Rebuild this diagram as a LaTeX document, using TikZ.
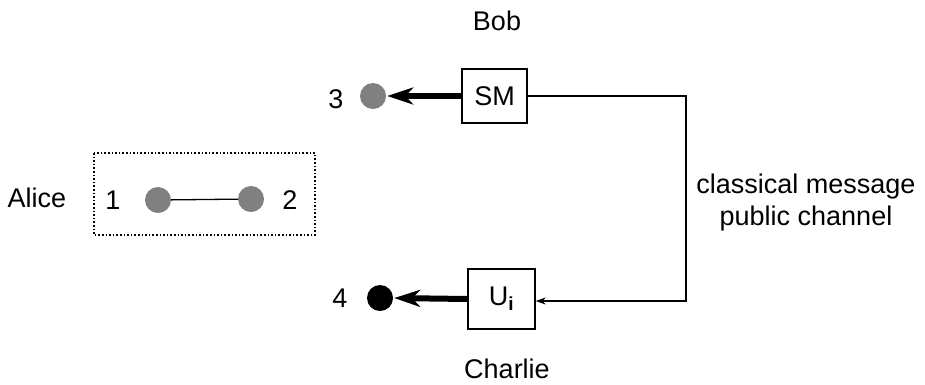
\documentclass[tikz,border=0pt]{standalone}
\usepackage{fontspec}
\setmainfont{Liberation Sans}
\usetikzlibrary{arrows.meta}
\begin{document}
\begin{tikzpicture}[x=1pt,y=-1pt,
  lbl/.style={font=\fontsize{27}{32}\selectfont, inner sep=0pt, anchor=base},
  boxnode/.style={draw, line width=1.3pt, font=\fontsize{27}{32}\selectfont, inner sep=0pt},
  qubit/.style={circle, inner sep=0pt, minimum size=26pt},
  thin/.style={line width=1.3pt},
  bigarrow/.style={line width=6pt, -{Stealth[length=26pt, width=17pt, inset=8pt]}, shorten >=1pt},
  smallarrow/.style={line width=1.3pt, -{Stealth[length=10pt, width=7pt]}}]
\useasboundingbox (0,0) rectangle (925,384);
\node[lbl] (bob) at (497,30) {Bob};
\node[lbl] (charlie) at (507,378) {Charlie};
\node[lbl] (alice) at (37,207) {Alice};
\node[boxnode, minimum width=65pt, minimum height=54pt] (sm) at (494.5,96) {SM};
\node[boxnode, minimum width=67pt, minimum height=60pt] (ui) at (501.5,299) {U$_{\mathbf{i}}$};
\node[qubit, fill=black!50] (q3) at (373,96) {};
\node[qubit, fill=black] (q4) at (380,298) {};
\node[lbl] (l3) at (336,108) {3};
\node[lbl] (l4) at (340,307) {4};
\draw[dotted, line width=1.6pt] (94,153) rectangle (315,235);
\node[qubit, fill=black!50] (q1) at (158,200) {};
\node[qubit, fill=black!50] (q2) at (251,199) {};
\node[lbl] (l1) at (113,209) {1};
\node[lbl] (l2) at (290,209) {2};
\draw[thin] (q1) -- (q2);
\draw[bigarrow] (sm.west) -- (q3.east);
\draw[bigarrow] (ui.west) -- (q4.east);
\coordinate (c1) at (686,96);
\coordinate (c2) at (686,301);
\draw[smallarrow] (sm.east) -- (c1) -- (c2) -- (ui.east |- c2);
\node[lbl] (msg1) at (806,193) {classical message};
\node[lbl] (msg2) at (806,225) {public channel};
\end{tikzpicture}
\end{document}
